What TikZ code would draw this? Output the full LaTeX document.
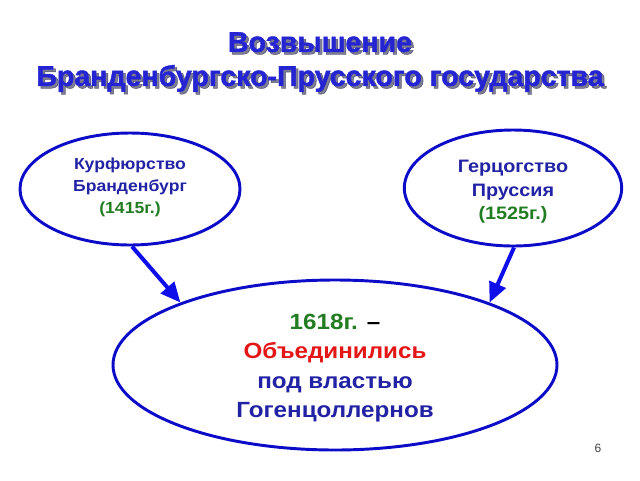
\documentclass[tikz,border=0pt]{standalone}
\usepackage{fontspec}
\setmainfont{Liberation Sans}
\newfontfamily\titlefont[RawFeature={embolden=1.6}]{Liberation Sans Bold}
\newfontfamily\ovalfont[FakeStretch=1.1]{Liberation Sans}
\usepackage{xcolor}
\usetikzlibrary{arrows.meta, shapes.geometric}
\definecolor{titleblue}{RGB}{36,36,210}
\definecolor{titleshade}{RGB}{20,20,60}
\definecolor{navy}{RGB}{34,34,165}
\definecolor{ovalblue}{RGB}{12,12,200}
\definecolor{arrowblue}{RGB}{14,14,235}
\definecolor{yeargreen}{RGB}{34,125,34}
\definecolor{unionred}{RGB}{228,22,22}

\begin{document}
\begin{tikzpicture}[x=0.75pt, y=-0.75pt,
  title/.style={font=\titlefont\fontsize{21.4}{25.5}\selectfont, align=center},
  oval/.style={ellipse, draw=ovalblue, line width=2.2pt, inner sep=0pt},
  ovaltext/.style={align=center, text=navy},
  link/.style={draw=arrowblue, line width=3pt, -{Triangle[length=15pt,width=13pt]}}]
\useasboundingbox[fill=white] (0,0) rectangle (640,480);

% title with its shadow
\node[title, text=titleshade, opacity=0.55] (titleshadow) at (322.5,64.5)
  {Возвышение\\Бранденбургско-Прусского государства};
\node[title, text=titleblue] (title) at (320,62)
  {Возвышение\\Бранденбургско-Прусского государства};

% the two lands
\node[oval, minimum width=165pt, minimum height=84pt] (kur) at (130,189) {};
\node[ovaltext, font=\ovalfont\fontsize{12}{16.5}\selectfont\bfseries] (kurtext) at (130,187)
  {Курфюрство\\Бранденбург\\\textcolor{yeargreen}{(1415г.)}};
\node[oval, minimum width=163pt, minimum height=87pt] (pru) at (513,188) {};
\node[ovaltext, font=\ovalfont\fontsize{13.5}{17.6}\selectfont\bfseries] (prutext) at (513,192)
  {Герцогство\\Пруссия\\\textcolor{yeargreen}{(1525г.)}};

% the union
\node[oval, minimum width=333pt, minimum height=127.5pt] (uni) at (335,365) {};
\node[ovaltext, font=\ovalfont\fontsize{16.5}{22}\selectfont\bfseries] (unitext) at (335,368)
  {\textcolor{yeargreen}{1618г.} \textcolor{black}{–}\\
   \textcolor{unionred}{Объединились}\\под властью\\Гогенцоллернов};

\draw[link] (kur.-88) -- (uni.158);
\draw[link] (pru.-89) -- (uni.22);

\node[text=black!75, font=\fontsize{9}{10}\selectfont] (page) at (598,448) {6};
\end{tikzpicture}
\end{document}
